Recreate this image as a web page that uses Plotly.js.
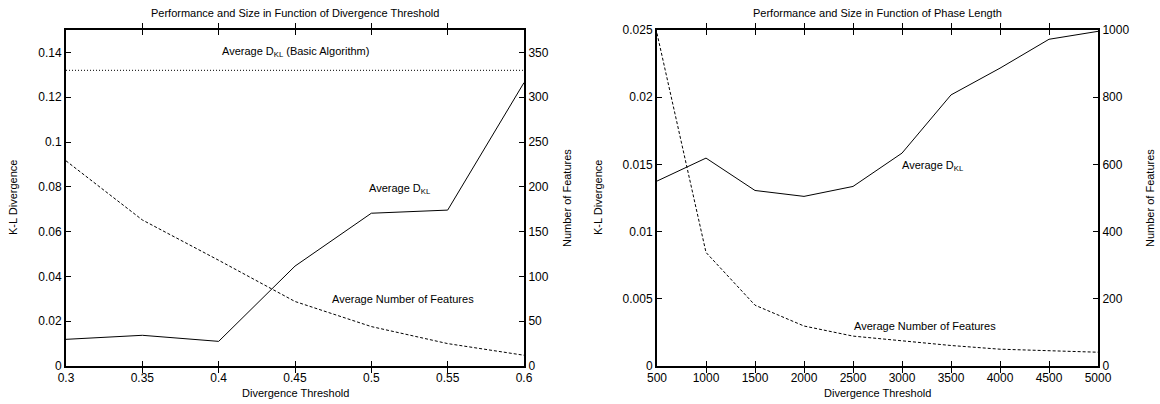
<!DOCTYPE html>
<html>
<head>
<meta charset="utf-8">
<script src="https://cdn.plot.ly/plotly-3.0.1.min.js"></script>
<style>html,body{margin:0;padding:0;background:#fff;}#chart{width:1160px;height:404px;}</style>
</head>
<body>
<div id="chart"></div>
<script>
// ---- Data: left panel (Divergence Threshold) ----
const thresholds = [0.3, 0.35, 0.4, 0.45, 0.5, 0.55, 0.6];
const dklByThreshold = [0.0119, 0.0137, 0.0110, 0.0446, 0.0682, 0.0696, 0.1265];
const featuresByThreshold = [229, 163, 118, 72, 44, 25, 12];
const basicAlgorithmDkl = 0.132;

// ---- Data: right panel (Phase Length) ----
const phaseLengths = [500, 1000, 1500, 2000, 2500, 3000, 3500, 4000, 4500, 5000];
const dklByPhase = [0.01376, 0.01547, 0.01306, 0.01262, 0.01336, 0.01584, 0.02017, 0.02216, 0.02431, 0.0249];
const featuresByPhase = [990, 338, 181, 119, 89, 74, 61, 50, 46, 41];

// ---- Text ----
const titleLeft = "Performance and Size in Function of Divergence Threshold";
const titleRight = "Performance and Size in Function of Phase Length";
const xTitle = "Divergence Threshold";
const yTitle = "K-L Divergence";
const y2Title = "Number of Features";
const labelBasic = "Average D<sub>KL</sub> (Basic Algorithm)";
const labelDkl = "Average D<sub>KL</sub>";
const labelFeatures = "Average Number of Features";

const W = 1160, H = 404;
const px = v => v / W;
const py = v => 1 - v / H;
const FONT = "Liberation Sans, Arial, sans-serif";

const line = {color: "#000", width: 1};
const dashed = {color: "#000", width: 1, dash: "3px,2px"};
const dotted = {color: "#000", width: 1, dash: "1px,2px"};

const traces = [
  {x: thresholds, y: thresholds.map(() => basicAlgorithmDkl), xaxis: "x", yaxis: "y", mode: "lines", line: dotted, hoverinfo: "skip"},
  {x: thresholds, y: dklByThreshold, xaxis: "x", yaxis: "y", mode: "lines", line: line},
  {x: thresholds, y: featuresByThreshold, xaxis: "x", yaxis: "y2", mode: "lines", line: dashed},
  {x: phaseLengths, y: dklByPhase, xaxis: "x2", yaxis: "y3", mode: "lines", line: line},
  {x: phaseLengths, y: featuresByPhase, xaxis: "x2", yaxis: "y4", mode: "lines", line: dashed}
];

const tickFont = {family: FONT, size: 12, color: "#000"};
const baseAxis = {
  showgrid: false, zeroline: false, showline: true, linecolor: "#000", linewidth: 2,
  ticks: "inside", ticklen: 5, tickcolor: "#000", tickwidth: 1, tickfont: tickFont, fixedrange: true
};

const xL = [66, 524], xR = [657, 1098], yTop = 30, yBot = 366;
const yDom = [py(yBot), py(yTop)];

function ann(text, xref, yref, x, y, extra) {
  return Object.assign({text: text, xref: xref, yref: yref, x: x, y: y, showarrow: false,
    xanchor: "center", yanchor: "middle", font: {family: FONT, size: 11, color: "#000"}}, extra || {});
}

const layout = {
  width: W, height: H, showlegend: false,
  margin: {l: 0, r: 0, t: 0, b: 0},
  paper_bgcolor: "#fff", plot_bgcolor: "#fff",
  font: {family: FONT, size: 11, color: "#000"},
  xaxis: Object.assign({}, baseAxis, {domain: [px(xL[0]), px(xL[1])], range: [0.3, 0.6], dtick: 0.05, tick0: 0.3, mirror: "allticks", anchor: "y"}),
  yaxis: Object.assign({}, baseAxis, {domain: yDom, range: [0, 0.15], dtick: 0.02, tick0: 0, anchor: "x", mirror: true}),
  yaxis2: Object.assign({}, baseAxis, {domain: yDom, range: [0, 375], dtick: 50, tick0: 0, overlaying: "y", side: "right", anchor: "x"}),
  xaxis2: Object.assign({}, baseAxis, {domain: [px(xR[0]), px(xR[1])], range: [500, 5000], dtick: 500, tick0: 500, mirror: "allticks", anchor: "y3"}),
  yaxis3: Object.assign({}, baseAxis, {domain: yDom, range: [0, 0.025], dtick: 0.005, tick0: 0, anchor: "x2", mirror: true}),
  yaxis4: Object.assign({}, baseAxis, {domain: yDom, range: [0, 1000], dtick: 200, tick0: 0, overlaying: "y3", side: "right", anchor: "x2"}),
  annotations: [
    ann(titleLeft, "paper", "paper", px((xL[0] + xL[1]) / 2), py(13)),
    ann(titleRight, "paper", "paper", px((xR[0] + xR[1]) / 2), py(13)),
    ann(xTitle, "paper", "paper", px((xL[0] + xL[1]) / 2), py(393)),
    ann(xTitle, "paper", "paper", px((xR[0] + xR[1]) / 2), py(393)),
    ann(yTitle, "paper", "paper", px(13), py(198), {textangle: -90}),
    ann(y2Title, "paper", "paper", px(567), py(198), {textangle: -90}),
    ann(yTitle, "paper", "paper", px(598), py(198), {textangle: -90}),
    ann(y2Title, "paper", "paper", px(1150), py(198), {textangle: -90}),
    ann(labelBasic, "x", "y", 0.45, 0.14),
    ann(labelDkl, "x", "y", 0.519, 0.079),
    ann(labelFeatures, "x", "y", 0.521, 0.0298),
    ann(labelDkl, "x2", "y3", 3320, 0.0149),
    ann(labelFeatures, "x2", "y3", 3235, 0.003)
  ]
};

Plotly.newPlot("chart", traces, layout, {staticPlot: true, displayModeBar: false});
</script>
</body>
</html>
